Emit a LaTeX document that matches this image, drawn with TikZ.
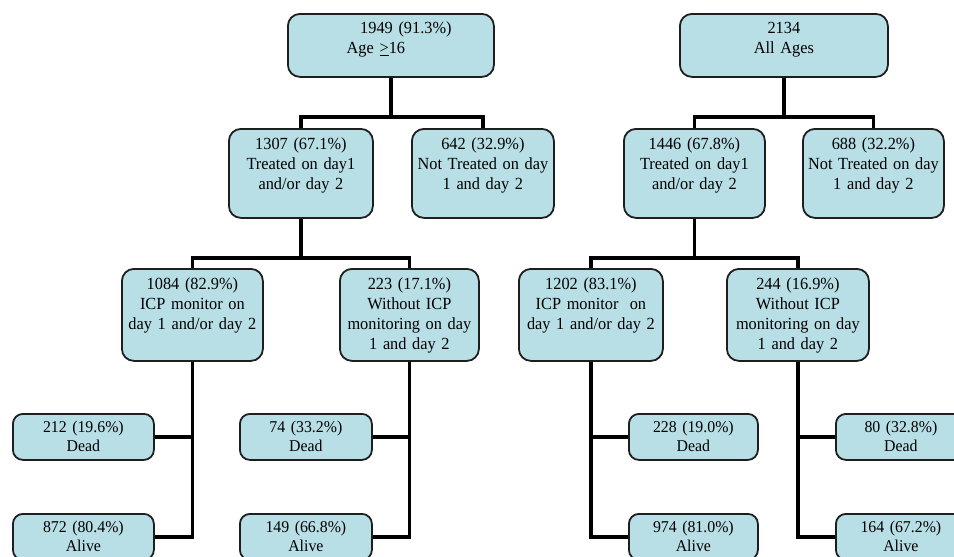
\documentclass[tikz,border=0pt]{standalone}
\usepackage{fontspec}
\setmainfont[FakeStretch=0.96]{Liberation Serif}
\definecolor{boxblue}{HTML}{B8DEE6}
\definecolor{edge}{HTML}{1E1E1E}
\begin{document}
\begin{tikzpicture}[x=1pt,y=-1pt,
  box/.style={draw=edge, line width=1.8pt, rounded corners=12pt, fill=boxblue,
    align=center, inner sep=0pt, anchor=north west,
    font=\fontsize{17}{20}\selectfont, text height=21pt},
  small/.style={font=\fontsize{16.5}{19}\selectfont, text height=19pt, text depth=27pt, rounded corners=10pt},
  conn/.style={line width=3.5pt, draw=black}]
\useasboundingbox (0,0) rectangle (954,557);
% level 1
\node[box, text width=206pt, text height=20pt, text depth=43pt] (b1949) at (287,13)
  {\hspace*{30pt}1949 (91.3\%)\\\hspace*{-30pt}Age \underline{>}16};
\node[box, text width=208pt, text height=20pt, text depth=43pt] (b2134) at (679,13)
  {2134\\All Ages};
% level 2
\node[box, text width=144pt, text depth=68pt] (b1307) at (228,128)
  {1307 (67.1\%)\\Treated on day1\\and/or day 2};
\node[box, text width=142pt, text depth=68pt] (b642) at (411,128)
  {642 (32.9\%)\\\mbox{Not Treated on day}\\1 and day 2};
\node[box, text width=141pt, text depth=68pt] (b1446) at (623,128)
  {1446 (67.8\%)\\Treated on day1\\and/or day 2};
\node[box, text width=141pt, text depth=68pt] (b688) at (802,128)
  {688 (32.2\%)\\\mbox{Not Treated on day}\\1 and day 2};
% level 3
\node[box, text width=141pt, text depth=71pt] (b1084) at (121,268)
  {1084 (82.9\%)\\ICP monitor on\\\mbox{day 1 and/or day 2}};
\node[box, text width=139pt, text depth=71pt] (b223) at (339,268)
  {223 (17.1\%)\\Without ICP\\\mbox{monitoring on day}\\1 and day 2};
\node[box, text width=144pt, text depth=71pt] (b1202) at (518,268)
  {1202 (83.1\%)\\ICP monitor\ \ on\\\mbox{day 1 and/or day 2}};
\node[box, text width=142pt, text depth=71pt] (b244) at (726,268)
  {244 (16.9\%)\\Without ICP\\\mbox{monitoring on day}\\1 and day 2};
% level 4
\node[box, small, text width=141pt] (b212) at (12,413) {212 (19.6\%)\\Dead};
\node[box, small, text width=141pt] (b872) at (12,513) {872 (80.4\%)\\Alive};
\node[box, small, text width=132pt] (b74) at (239,413) {74 (33.2\%)\\Dead};
\node[box, small, text width=132pt] (b149) at (239,513) {149 (66.8\%)\\Alive};
\node[box, small, text width=129pt] (b228) at (628,413) {228 (19.0\%)\\Dead};
\node[box, small, text width=129pt] (b974) at (628,513) {974 (81.0\%)\\Alive};
\node[box, small, text width=130pt] (b80) at (835,413) {80 (32.8\%)\\Dead};
\node[box, small, text width=130pt] (b164) at (835,513) {164 (67.2\%)\\Alive};
% connectors
\draw[conn] (b1949.south) -- ++(0,39) -| (b1307.north);
\draw[conn] (b1949.south) -- ++(0,39) -| (b642.north);
\draw[conn] (b2134.south) -- ++(0,39) -| (b1446.north);
\draw[conn] (b2134.south) -- ++(0,39) -| (b688.north);
\draw[conn] (b1307.south) -- ++(0,39) -| (b1084.north);
\draw[conn] (b1307.south) -- ++(0,39) -| (b223.north);
\draw[conn] (b1446.south) -- ++(0,39) -| (b1202.north);
\draw[conn] (b1446.south) -- ++(0,39) -| (b244.north);
\draw[conn] (b1084.south) |- (b212.east);
\draw[conn] (b1084.south) |- (b872.east);
\draw[conn] (b223.south) |- (b74.east);
\draw[conn] (b223.south) |- (b149.east);
\draw[conn] (b1202.south) |- (b228.west);
\draw[conn] (b1202.south) |- (b974.west);
\draw[conn] (b244.south) |- (b80.west);
\draw[conn] (b244.south) |- (b164.west);
\end{tikzpicture}
\end{document}
